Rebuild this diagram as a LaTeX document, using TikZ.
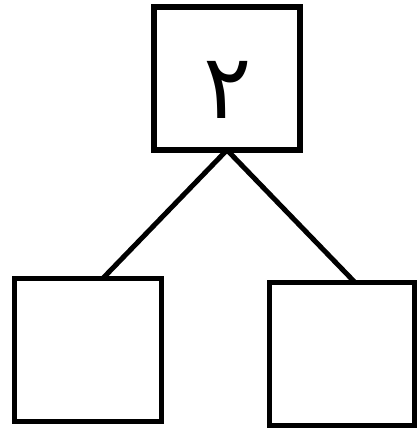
\documentclass[tikz,border=0pt]{standalone}
\usepackage{fontspec}
\newfontfamily\arabicfont[Script=Arabic]{DejaVu Sans}
\TeXXeTstate=1
\usetikzlibrary{calc}
\begin{document}
\begin{tikzpicture}[x=1pt,y=-1pt,
  box/.style={draw=black,line width=5.5pt,minimum width=146pt,minimum height=143pt,inner sep=0pt,outer sep=0pt,fill=white},
  link/.style={draw=black,line width=5pt}]
\useasboundingbox (0,0) rectangle (419,428);
\node[box] (top) at (227,78.5) {};
\node[box,minimum width=147pt] (left) at (88,350) {};
\node[box,minimum width=145pt] (right) at (342,354) {};
\node[inner sep=0pt] (digit) at (228,90) {\fontsize{90}{90}\selectfont\arabicfont\beginR ٢\endR};
\coordinate (lend) at ($(left.north west)!0.6!(left.north east)$);
\coordinate (rend) at ($(right.north west)!0.59!(right.north east)$);
\draw[link] (top.south) -- (lend);
\draw[link] (top.south) -- (rend);
\end{tikzpicture}
\end{document}
